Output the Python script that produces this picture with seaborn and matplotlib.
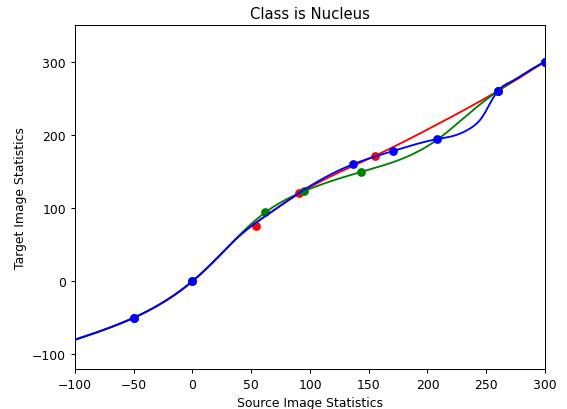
import numpy as np
import pandas as pd
import matplotlib
matplotlib.use("Agg")
import matplotlib.pyplot as plt
import seaborn as sns

# Marked sample points per class
red_x = [-50, 0, 54, 91, 155, 260, 300]
red_y = [-50, 0, 75, 120, 171, 260, 300]
green_x = [-50, 0, 62, 95, 143, 260, 300]
green_y = [-50, 0, 94, 123, 149, 260, 300]
blue_x = [-50, 0, 137, 171, 208, 260, 300]
blue_y = [-50, 0, 160, 178, 194, 260, 300]

# Curve knots (the mapping curves)
red_curve_x = [-100, -50, 0, 20, 40, 63, 91, 155, 208, 260, 300]
red_curve_y = [-80, -50, 0, 30, 62, 90, 120, 171, 214, 260, 300]
green_curve_x = [-100, -50, 0, 20, 40, 62, 95, 143, 208, 236, 260, 300]
green_curve_y = [-80, -50, 0, 30, 63, 94, 123, 149, 193, 230, 260, 300]
blue_curve_x = [-100, -50, 0, 20, 40, 63, 86, 97, 137, 171, 208, 222, 236,
                247.5, 254.6, 260, 273, 287, 300]
blue_curve_y = [-80, -50, 0, 30, 62, 90, 115.5, 127, 160, 178, 194, 198.5, 208.4,
                226.5, 247, 260, 274, 288, 300]


def natural_spline(xk, yk, xs):
    xk = np.asarray(xk, float)
    yk = np.asarray(yk, float)
    n = len(xk)
    h = np.diff(xk)
    A = np.zeros((n, n))
    b = np.zeros(n)
    A[0, 0] = 1.0
    A[-1, -1] = 1.0
    for i in range(1, n - 1):
        A[i, i - 1] = h[i - 1]
        A[i, i] = 2 * (h[i - 1] + h[i])
        A[i, i + 1] = h[i]
        b[i] = 6 * ((yk[i + 1] - yk[i]) / h[i] - (yk[i] - yk[i - 1]) / h[i - 1])
    M = np.linalg.solve(A, b)
    idx = np.clip(np.searchsorted(xk, xs) - 1, 0, n - 2)
    x0, x1 = xk[idx], xk[idx + 1]
    y0, y1 = yk[idx], yk[idx + 1]
    m0, m1 = M[idx], M[idx + 1]
    hh = x1 - x0
    return (m0 * (x1 - xs) ** 3 / (6 * hh) + m1 * (xs - x0) ** 3 / (6 * hh)
            + (y0 / hh - m0 * hh / 6) * (x1 - xs) + (y1 / hh - m1 * hh / 6) * (xs - x0))


fs = 0.89
plt.rcParams.update({
    "xtick.major.size": 3.5 * fs,
    "ytick.major.size": 3.5 * fs,
    "xtick.major.width": 0.8 * fs,
    "ytick.major.width": 0.8 * fs,
    "axes.linewidth": 0.8 * fs,
    "xtick.labelsize": 10 * fs,
    "ytick.labelsize": 10 * fs,
})

fig = plt.figure(figsize=(5.67, 4.10), dpi=100)
ax = fig.add_axes([75 / 567, 1 - 370 / 410, 470 / 567, 344 / 410])

xs = np.linspace(-100, 300, 800)
z = 2
for cx, cy, px, py, c in [
    (red_curve_x, red_curve_y, red_x, red_y, "red"),
    (green_curve_x, green_curve_y, green_x, green_y, "green"),
    (blue_curve_x, blue_curve_y, blue_x, blue_y, "blue"),
]:
    curve = pd.DataFrame({"x": xs, "y": natural_spline(cx, cy, xs)})
    sns.lineplot(data=curve, x="x", y="y", color=c, linewidth=1.5 * fs, ax=ax, zorder=z, sort=False)
    sns.scatterplot(x=px, y=py, color=c, s=40, linewidth=0, ax=ax, zorder=z + 1)
    z += 2

ax.set_xlim(-100, 300)
ax.set_ylim(-120, 350)
ax.set_xticks(np.arange(-100, 301, 50))
ax.set_yticks([-100, 0, 100, 200, 300])
ax.set_title("Class is Nucleus", fontsize=12 * fs, pad=6 * fs)
ax.set_xlabel("Source Image Statistics", fontsize=10 * fs, labelpad=4 * fs)
ax.set_ylabel("Target Image Statistics", fontsize=10 * fs, labelpad=4 * fs)

fig.savefig("out.png", dpi=100)
